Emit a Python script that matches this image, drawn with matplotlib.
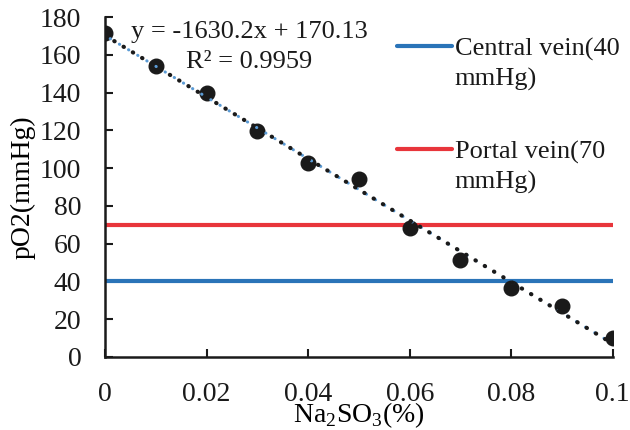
import numpy as np
import matplotlib
matplotlib.use("Agg")
import matplotlib.pyplot as plt

# valores
na2so3 = [0.0, 0.01, 0.02, 0.03, 0.04, 0.05, 0.06, 0.07, 0.08, 0.09, 0.1]
po2 = [171.5, 153.9, 140.1, 119.5, 102.7, 94.4, 68.2, 51.4, 36.4, 27.2, 9.9]

central_vein = 40
portal_vein = 70

x_ticks = [0, 0.02, 0.04, 0.06, 0.08, 0.1]
x_tick_labels = ["0", "0.02", "0.04", "0.06", "0.08", "0.1"]
y_ticks = [0, 20, 40, 60, 80, 100, 120, 140, 160, 180]

eq_text = "y = -1630.2x + 170.13"
r2_text = "R² = 0.9959"
legend_labels = ["Central vein(40\nmmHg)", "Portal vein(70\nmmHg)"]

blue = '#2a74b8'
red = '#e8353b'
ink = '#1a1a1a'

plt.rcParams['font.family'] = ['Liberation Serif', 'DejaVu Serif']
plt.rcParams['font.size'] = 20
plt.rcParams['text.color'] = ink
plt.rcParams['mathtext.fontset'] = 'custom'
plt.rcParams['mathtext.rm'] = 'Liberation Serif'

fig = plt.figure(figsize=(6.3, 4.3), dpi=100)
ax = fig.add_axes([0.1667, 0.170, 0.806, 0.790])

# linhas de referência
ax.plot([0, 0.1], [portal_vein, portal_vein], color=red, lw=3.0, solid_capstyle='round', zorder=2)
ax.plot([0, 0.1], [central_vein, central_vein], color=blue, lw=3.0, solid_capstyle='round', zorder=2)

# pontos
ax.plot(na2so3, po2, 'o', color=ink, markersize=10.5, zorder=3)

# linha de tendência (azul pontilhada + preta pontilhada)
slope, intercept = np.polyfit(na2so3, po2, 1)
xs = np.array([0, 0.1])
ax.plot(xs, slope * xs + intercept, color='#5b9bd5', lw=2.2,
        linestyle=(1.5, (0.1, 3.4)), dash_capstyle='round', zorder=4)
ax.plot(xs, slope * xs + intercept, color=ink, lw=3.0,
        linestyle=(0, (0.1, 2.5)), dash_capstyle='round', zorder=5)

ax.text(0.0284, 172, eq_text, ha='center', va='center', fontsize=19)
ax.text(0.0284, 156, r2_text, ha='center', va='center', fontsize=19)

# legenda feita à mão (traço alinhado com a primeira linha do texto)
for i, (lab, col) in enumerate(zip(legend_labels, [blue, red])):
    y_line = 0.915 - i * 0.303
    ax.plot([0.575, 0.683], [y_line, y_line], color=col, lw=3.0,
            solid_capstyle='round', transform=ax.transAxes, clip_on=False)
    ax.text(0.689, y_line - 0.117, lab, ha='left', va='baseline', fontsize=19,
            linespacing=1.38, transform=ax.transAxes)

ax.set_xlim(0, 0.1)
ax.set_ylim(0, 180)
ax.set_xticks(x_ticks)
ax.set_xticklabels(x_tick_labels)
ax.set_yticks(y_ticks)
ax.tick_params(direction='in', length=6, width=1.5, colors=ink)
ax.tick_params(axis='x', pad=18)
ax.tick_params(axis='y', pad=17)
for side in ['top', 'right']:
    ax.spines[side].set_visible(False)
for side in ['left', 'bottom']:
    ax.spines[side].set_linewidth(1.8)
    ax.spines[side].set_color(ink)

ax.set_xlabel("Na$_\\mathrm{2}$SO$_\\mathrm{3}$(%)")
ax.xaxis.set_label_coords(0.5, -0.128)
ax.set_ylabel("pO2(mmHg)")
ax.yaxis.set_label_coords(-0.136, 0.5)

fig.savefig("out.png", dpi=100)
